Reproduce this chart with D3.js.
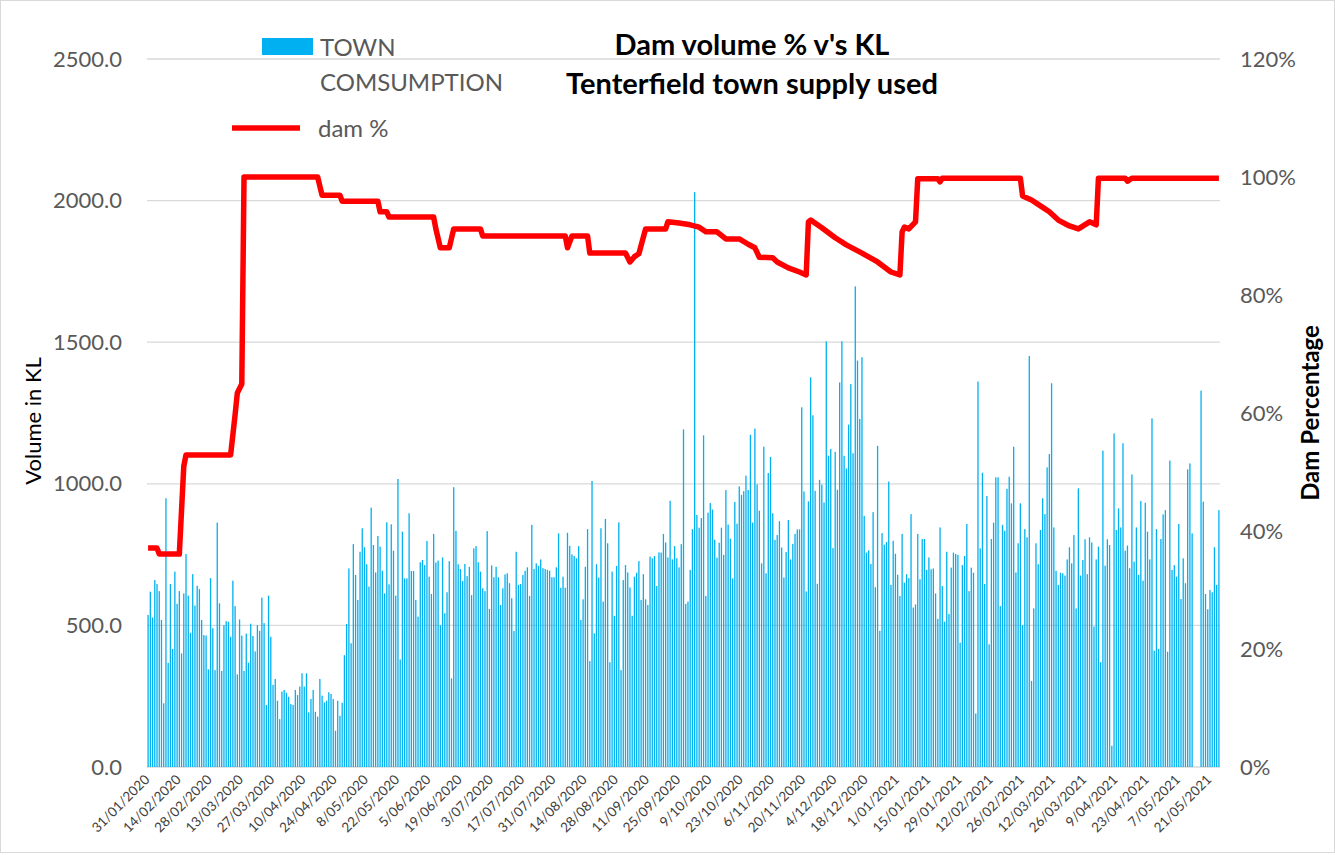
<!DOCTYPE html>
<html>
<head>
<meta charset="utf-8">
<script src="https://cdn.jsdelivr.net/npm/d3@7"></script>
<style>
  body { margin: 0; background: #fff; }
  svg { display: block; font-family: Lato, 'Open Sans', sans-serif; }
</style>
</head>
<body>
<div id="chart"></div>
<script>
// daily town consumption (KL), 31/01/2020 onwards
const townKL = [
  537, 619, 528, 660, 646, 621, 519, 225, 949, 368, 646, 417, 690, 576, 621, 401, 613, 752, 605, 474,
  681, 570, 640, 628, 519, 466, 464, 345, 667, 490, 342, 863, 578, 339, 501, 515, 513, 460, 658, 568,
  327, 521, 464, 339, 471, 368, 506, 463, 408,
  501, 481, 598, 508, 219, 605, 460, 290, 311, 234, 169, 266, 272, 262, 248, 222, 219, 272, 254, 284,
  331, 284, 331, 193, 240, 272, 195, 178, 311, 252, 228, 234, 264, 258, 240, 128, 234, 181, 227, 395,
  505, 701, 437, 787, 678, 590, 760, 843, 776, 716,
  637, 916, 784, 687, 816, 778, 693, 613, 864, 645, 857, 764, 605, 1017, 380, 831, 666, 666, 896, 692,
  692, 590, 531, 723, 731, 713, 798, 672, 611, 823, 722, 729, 501, 740, 543, 617, 727, 313, 988, 834,
  716, 699, 657, 717, 674, 707, 607, 772, 780,
  723, 690, 631, 621, 833, 558, 712, 670, 707, 670, 572, 631, 680, 684, 649, 596, 480, 760, 643, 646,
  678, 693, 705, 604, 855, 699, 719, 710, 733, 702, 699, 696, 693, 670, 670, 705, 825, 633, 672, 633,
  827, 781, 751, 745, 737, 780, 519, 592, 707,
  840, 374, 1010, 472, 716, 669, 843, 584, 876, 790, 370, 690, 534, 710, 864, 342, 660, 713, 687, 634,
  534, 672, 686, 727, 590, 681, 592, 572, 743, 737, 745, 639, 758, 757, 823, 793, 740, 940, 733, 780,
  737, 705, 787, 1192, 576, 584, 696, 840, 2030, 890,
  845, 879, 1171, 604, 898, 932, 909, 803, 739, 792, 845, 749, 978, 856, 806, 666, 936, 859, 991, 961,
  974, 1029, 978, 1173, 863, 1195, 998, 905, 719, 1131, 684, 1038, 1095, 896, 802, 819, 868, 775, 669, 759,
  872, 733, 788, 823, 839, 839, 1270,
  973, 620, 938, 1376, 1242, 975, 647, 1014, 997, 934, 1503, 1099, 1123, 773, 1113, 979, 1358, 1503, 1099, 1054,
  1209, 1352, 1108, 1697, 1435, 1229, 1447, 887, 757, 765, 717, 900, 635, 1134, 481, 826, 785, 794, 1008, 643,
  799, 753, 679, 604, 823, 651, 681, 667, 893,
  563, 574, 823, 663, 805, 805, 696, 740, 698, 701, 613, 523, 846, 639, 513, 760, 540, 704, 757, 752,
  749, 439, 713, 745, 858, 621, 704, 686, 189, 1361, 772, 1039, 646, 957, 433, 805, 863, 1023, 1023, 568,
  855, 834, 982, 1025, 931, 1131, 687, 790, 931,
  501, 840, 811, 1451, 304, 560, 790, 716, 837, 949, 893, 1058, 1105, 1355, 846, 693, 643, 686, 684, 676,
  733, 776, 719, 819, 560, 984, 676, 731, 804, 681, 811, 793, 496, 733, 778, 370, 1117, 711, 804, 784,
  75, 1178, 837, 913, 846, 1143, 764, 782, 702, 1033,
  725, 846, 678, 939, 658, 933, 831, 733, 1231, 411, 840, 417, 805, 892, 907, 407, 1082, 696, 713, 672,
  858, 593, 737, 649, 1051, 1072, 825, null, null, null, 1329, 937, 611, 557, 625, 617, 776, 643, 907
];

// dam % readings: day number (from 31/01/2020) where the level changes, and the level
const damDay = [0, 4, 5, 14, 16, 17, 37, 39, 40, 42, 43, 76, 78, 86, 87, 103, 104, 107, 108, 128,
  129, 131, 135, 137, 149, 150, 187, 188, 190, 197, 198, 214, 216, 218, 220, 223, 232, 233, 238, 243,
  247, 250, 255, 259, 265, 269, 272, 274, 280, 282, 287, 292, 295, 296, 297, 302, 308, 313, 320, 327,
  333, 337, 338, 339, 341, 344, 345, 346, 354, 355, 356, 360, 391, 392, 396, 400, 404, 408, 413, 417,
  422, 425, 426, 438, 439, 441, 480];
const damPct = [37.1, 37.1, 36.1, 36.1, 51, 52.9, 52.9, 59.7, 63.4, 64.9, 100, 100, 96.9, 96.9, 95.9, 95.9, 94.1, 94.1, 93.2, 93.2,
  91.2, 88, 88, 91.2, 91.2, 90, 90, 88, 90, 90, 87.1, 87.1, 85.6, 86.5, 87, 91.2, 91.2, 92.4, 92.2, 91.9,
  91.5, 90.7, 90.7, 89.5, 89.5, 88.6, 88, 86.4, 86.3, 85.6, 84.6, 83.9, 83.4, 92.4, 92.7, 91.4, 89.7, 88.5, 87.1, 85.6,
  83.9, 83.4, 90.7, 91.5, 91.2, 92.4, 99.7, 99.7, 99.7, 99.2, 99.8, 99.8, 99.8, 96.8, 96.1, 95.1, 94.1, 92.7, 91.7, 91.2,
  92.4, 91.9, 99.8, 99.8, 99.3, 99.8, 99.8];

const volumeTicks = [0, 500, 1000, 1500, 2000, 2500];
const pctTicks = [0, 0.2, 0.4, 0.6, 0.8, 1.0, 1.2];
const dateLabels = ['31/01/2020', '14/02/2020', '28/02/2020', '13/03/2020', '27/03/2020', '10/04/2020',
  '24/04/2020', '8/05/2020', '22/05/2020', '5/06/2020', '19/06/2020', '3/07/2020', '17/07/2020',
  '31/07/2020', '14/08/2020', '28/08/2020', '11/09/2020', '25/09/2020', '9/10/2020', '23/10/2020',
  '6/11/2020', '20/11/2020', '4/12/2020', '18/12/2020', '1/01/2021', '15/01/2021', '29/01/2021',
  '12/02/2021', '26/02/2021', '12/03/2021', '26/03/2021', '9/04/2021', '23/04/2021', '7/05/2021',
  '21/05/2021'];
const labelStep = 14;

const width = 1335, height = 855;
const margin = { left: 147, right: 115, top: 59, bottom: 88 };
const svg = d3.select('#chart').append('svg').attr('width', width).attr('height', height);

svg.append('rect').attr('x', 0.5).attr('y', 0.5).attr('width', width - 1).attr('height', height - 3)
  .attr('fill', '#fff').attr('stroke', '#d9d9d9');

const x = d3.scaleBand().domain(d3.range(townKL.length))
  .range([margin.left, width - margin.right]).paddingInner(0.42).paddingOuter(0.2);
const y = d3.scaleLinear().domain([0, 2500]).range([height - margin.bottom, margin.top]);
const y2 = d3.scaleLinear().domain([0, 1.2]).range([height - margin.bottom, margin.top]);
const cx = i => x(i) + x.bandwidth() / 2;

// gridlines
svg.append('g').selectAll('line').data(volumeTicks).join('line')
  .attr('x1', margin.left).attr('x2', width - margin.right)
  .attr('y1', d => y(d)).attr('y2', d => y(d))
  .attr('stroke', '#d9d9d9').attr('stroke-width', 1.3);

// bars
svg.append('g').selectAll('rect').data(townKL.map((v, i) => ({ v, i })).filter(d => d.v != null)).join('rect')
  .attr('x', d => x(d.i)).attr('width', x.bandwidth())
  .attr('y', d => y(d.v)).attr('height', d => y(0) - y(d.v))
  .attr('fill', '#00b0f0');

// dam line
const line = d3.line().x(d => cx(d[0])).y(d => y2(d[1] / 100));
svg.append('path').datum(damDay.map((d, i) => [d, damPct[i]]))
  .attr('d', line).attr('fill', 'none').attr('stroke', '#ff0000')
  .attr('stroke-width', 5.5).attr('stroke-linejoin', 'round');

// axes
const axisText = g => g.selectAll('text').attr('fill', '#595959').style('font-size', '22px')
  .style('font-family', 'Lato, sans-serif');
svg.append('g').attr('transform', `translate(${margin.left},0)`)
  .call(d3.axisLeft(y).tickValues(volumeTicks).tickFormat(d3.format('.1f')).tickSize(0).tickPadding(25))
  .call(g => g.select('.domain').remove()).call(axisText);
svg.append('g').attr('transform', `translate(${width - margin.right},0)`)
  .call(d3.axisRight(y2).tickValues(pctTicks).tickFormat(d3.format('.0%')).tickSize(0).tickPadding(20))
  .call(g => g.select('.domain').remove()).call(axisText);

// date labels, one every 14 days
svg.append('g').selectAll('text').data(dateLabels).join('text')
  .attr('transform', (d, i) => `translate(${cx(i * labelStep) - 1},${y(0) + 10}) rotate(-45)`)
  .attr('text-anchor', 'end').attr('dy', '0.35em')
  .attr('fill', '#404040').style('font-size', '13.5px')
  .text(d => d);

// axis titles
svg.append('text').attr('transform', `translate(41,421) rotate(-90)`)
  .attr('text-anchor', 'middle').style('font-size', '22px').attr('fill', '#000')
  .text('Volume in KL');
svg.append('text').attr('transform', `translate(1319,413) rotate(-90)`)
  .attr('text-anchor', 'middle').style('font-size', '24px').style('font-weight', 'bold').attr('fill', '#000')
  .text('Dam Percentage');

// title
svg.append('text').attr('x', 752).attr('y', 55).attr('text-anchor', 'middle')
  .style('font-size', '29px').style('font-weight', 'bold').text("Dam volume % v's KL");
svg.append('text').attr('x', 752).attr('y', 94).attr('text-anchor', 'middle')
  .style('font-size', '29px').style('font-weight', 'bold').text('Tenterfield town supply used');

// legend
const legend = svg.append('g').attr('fill', '#595959').style('font-size', '24px');
legend.append('rect').attr('x', 262).attr('y', 38).attr('width', 51).attr('height', 17).attr('fill', '#00b0f0');
legend.append('text').attr('x', 320).attr('y', 56).text('TOWN');
legend.append('text').attr('x', 320).attr('y', 91).text('COMSUMPTION');
legend.append('line').attr('x1', 232).attr('x2', 300).attr('y1', 128).attr('y2', 128)
  .attr('stroke', '#ff0000').attr('stroke-width', 5.5);
legend.append('text').attr('x', 318).attr('y', 137).text('dam %');
</script>
</body>
</html>
